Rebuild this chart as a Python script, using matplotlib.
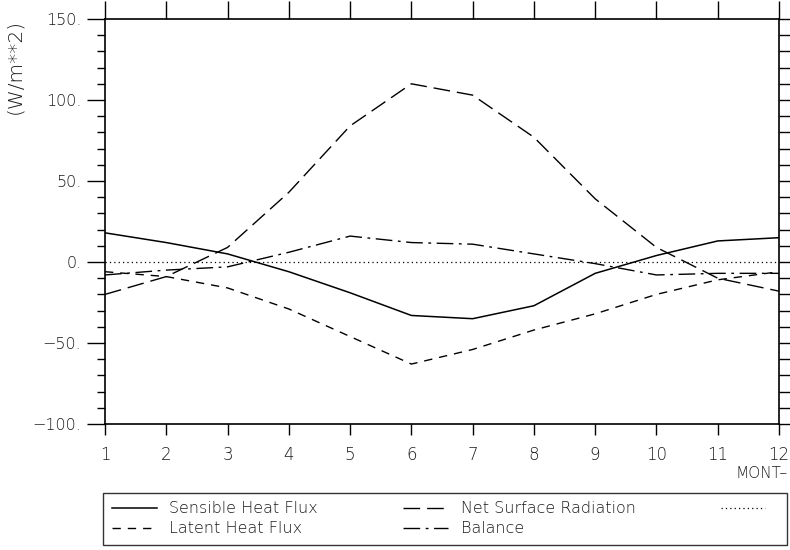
import matplotlib
matplotlib.use('Agg')
from matplotlib import pyplot as plt
from matplotlib.ticker import MultipleLocator

# monthly mean surface energy budget
months = [1, 2, 3, 4, 5, 6, 7, 8, 9, 10, 11, 12]
sensible = [18, 12, 5, -6, -19, -33, -35, -27, -7, 4, 13, 15]
latent = [-6, -9, -16, -29, -46, -63, -54, -42, -32, -20, -11, -6]
net_rad = [-20, -9, 9, 43, 84, 110, 103, 77, 39, 9, -10, -18]
balance = [-8, -5, -3, 6, 16, 12, 11, 5, -1, -8, -7, -7]
zero = [0] * len(months)

yticks = [-100, -50, 0, 50, 100, 150]
ytick_labels = ['\u2212100.', '\u221250.', '0.', '50.', '100.', '150.']

txt = '#1a1a1a'
plt.rcParams['font.family'] = ['DejaVu Sans']
plt.rcParams['font.weight'] = 'light'

fig = plt.figure(figsize=(7.9, 5.5), dpi=100)
ax = fig.add_axes([105 / 790, 1 - 424 / 550, 674 / 790, 405 / 550])

l1, = ax.plot(months, sensible, color='black', lw=1.1, ls='-')
l2, = ax.plot(months, latent, color='black', lw=1.0, ls=(0, (6, 5)))
l3, = ax.plot(months, net_rad, color='black', lw=1.0, ls=(0, (12, 5)))
l4, = ax.plot(months, balance, color='black', lw=1.0, ls=(0, (12, 4, 2, 4)))
l5, = ax.plot(months, zero, color='black', lw=0.9, ls=(0, (1, 2.5)))

ax.set_xlim(1, 12)
ax.set_ylim(-100, 150)
ax.set_xticks(months)
ax.set_xticklabels([str(m) for m in months], fontsize=12, color=txt)
ax.set_yticks(yticks)
ax.set_yticklabels(ytick_labels, fontsize=11.5, color=txt)
ax.yaxis.set_minor_locator(MultipleLocator(10))

ax.tick_params(axis='x', which='major', direction='out', length=8, width=1,
               top=True, pad=8)
ax.tick_params(axis='y', which='major', direction='out', length=13, width=1,
               right=True, pad=4)
ax.tick_params(axis='y', which='minor', direction='out', length=6, width=1,
               right=True)
for s in ax.spines.values():
    s.set_linewidth(1.2)

# top ticks are taller on the original
for t in ax.xaxis.get_major_ticks():
    t.tick2line.set_markersize(13)
# right ticks are all the same length
for t in ax.yaxis.get_major_ticks() + ax.yaxis.get_minor_ticks():
    t.tick2line.set_markersize(9)

fig.text(15 / 790, 1 - 66 / 550, '(W/m**2)', rotation=90, ha='center',
         va='center', fontsize=14.5, color=txt)
fig.text(762 / 790, 1 - 473 / 550, 'MONT\u2013', ha='center', va='center',
         fontsize=11, color=txt)

handles = [l1, l2, l3, l4, l5]
labels = ['Sensible Heat Flux', 'Latent Heat Flux', 'Net Surface Radiation',
          'Balance', '']
leg = fig.legend(handles, labels, ncol=3, mode='expand',
                 bbox_to_anchor=(103 / 790, 1 - 545 / 550, 684 / 790, 55 / 550),
                 loc='lower left', fontsize=11.5, frameon=True, fancybox=False,
                 handlelength=2.8, borderaxespad=0, labelspacing=0.3,
                 borderpad=0.55)
leg.get_frame().set_edgecolor('black')
leg.get_frame().set_linewidth(1.0)
for t in leg.get_texts():
    t.set_color(txt)

fig.savefig('out.png', dpi=100)
